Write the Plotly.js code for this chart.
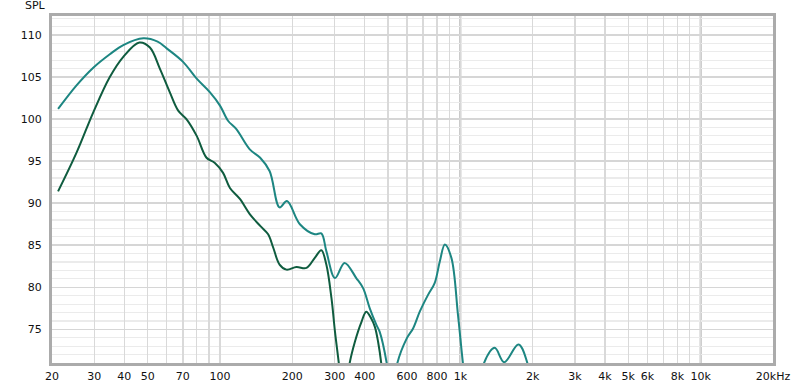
<!DOCTYPE html>
<html>
<head>
<meta charset="utf-8">
<script src="https://cdn.plot.ly/plotly-3.0.1.min.js"></script>
<style>
  html, body { margin: 0; padding: 0; background: #ffffff; }
  #chart { width: 800px; height: 387px; }
</style>
</head>
<body>
<div id="chart"></div>
<script>
// ---- data ----
const tealFreq = [21.2, 25.3, 29.7, 34.8, 39.6, 48, 55, 60, 70.2, 80, 90.7, 100, 108, 117, 133, 147, 161, 177, 190, 215, 248, 264, 277, 301, 330, 369, 394, 420, 448, 462, 496, 515, 530, 544, 598, 636, 678, 734, 782, 822, 862, 918, 978, 1028, 1080, 1180, 1243, 1390, 1522, 1746, 1914, 2000];
const tealSpl  = [101.2, 104.0, 106.1, 107.7, 108.8, 109.6, 109.2, 108.4, 106.8, 104.8, 103.2, 101.6, 99.8, 98.8, 96.4, 95.4, 93.8, 89.5, 90.25, 87.5, 86.3, 86.4, 84.3, 81.1, 82.9, 81.1, 79.9, 77.5, 75.5, 74.7, 70.7, 67, 67, 70.7, 73.9, 75.1, 77.1, 79.1, 80.5, 83.1, 85.1, 83.5, 76.7, 70.7, 66, 67, 70.7, 72.8, 71.1, 73.2, 70.7, 67];

const darkFreq = [21.2, 25.3, 29.7, 34.8, 39.6, 46.2, 51.1, 56.2, 61.8, 67, 72.5, 80, 87.9, 95, 103, 110, 121, 133, 147, 158.6, 166.6, 177, 189, 208, 229, 248, 264, 277, 291, 301, 313, 322, 335, 345, 364, 388, 406, 426, 441, 455, 470, 485];
const darkSpl  = [91.4, 96.0, 100.8, 105.0, 107.4, 109.1, 108.5, 106.0, 103.2, 101.0, 100.0, 98.0, 95.4, 94.8, 93.6, 91.8, 90.5, 88.7, 87.3, 86.3, 84.7, 82.7, 82.1, 82.4, 82.3, 83.5, 84.4, 82.7, 78.7, 74.7, 70.7, 67, 67, 70.7, 73.5, 75.9, 77.1, 76.3, 75.3, 73.5, 70.7, 66];

const xTickVals = [20, 30, 40, 50, 60, 70, 80, 90, 100, 200, 300, 400, 500, 600, 700, 800, 900, 1000, 2000, 3000, 4000, 5000, 6000, 7000, 8000, 9000, 10000, 20000];
const xTickText = ['20', '30', '40', '50', '', '70', '', '', '100', '200', '300', '400', '', '600', '', '800', '', '1k', '2k', '3k', '4k', '5k', '6k', '', '8k', '', '10k', '20kHz'];
const yTickVals = [75, 80, 85, 90, 95, 100, 105, 110];
const decadeLines = [100, 1000, 10000];

// ---- chart ----
const font = { family: 'DejaVu Sans, Verdana, sans-serif', size: 11, color: '#111111' };

const traces = [
  {
    x: darkFreq, y: darkSpl, type: 'scatter', mode: 'lines',
    line: { color: '#0f5c3f', width: 2, shape: 'spline', smoothing: 1 },
    hoverinfo: 'skip'
  },
  {
    x: tealFreq, y: tealSpl, type: 'scatter', mode: 'lines',
    line: { color: '#1d8682', width: 2, shape: 'spline', smoothing: 1 },
    hoverinfo: 'skip'
  }
];

const shapes = decadeLines.map(v => ({
  type: 'line', xref: 'x', yref: 'paper', x0: v, x1: v, y0: 0, y1: 1,
  line: { color: '#b3b3b3', width: 2 }, layer: 'below'
}));

const layout = {
  width: 800, height: 387,
  margin: { l: 52, r: 27, t: 16, b: 24 },
  paper_bgcolor: '#ffffff', plot_bgcolor: '#ffffff',
  showlegend: false,
  font: font,
  xaxis: {
    type: 'log',
    range: [Math.log10(20), Math.log10(20000)],
    tickvals: xTickVals, ticktext: xTickText,
    showgrid: true, gridcolor: '#d9d9d9', gridwidth: 1.5,
    showline: true, mirror: true, linecolor: '#ababab', linewidth: 3,
    ticks: '', zeroline: false, tickfont: font,
    ticklabelstandoff: 1, fixedrange: true
  },
  yaxis: {
    range: [71.0, 112.25],
    tickvals: yTickVals,
    showgrid: true, gridcolor: '#d6d6d6', gridwidth: 1.5,
    minor: { dtick: 1, tick0: 0, showgrid: true, gridcolor: '#ebebeb', gridwidth: 1.2 },
    showline: true, mirror: true, linecolor: '#ababab', linewidth: 3,
    ticks: '', zeroline: false, tickfont: font,
    ticklabelstandoff: 5, fixedrange: true
  },
  shapes: shapes,
  annotations: [{
    text: 'SPL', xref: 'paper', yref: 'paper', x: 0, y: 1,
    xanchor: 'right', yanchor: 'bottom', xshift: -4, yshift: 2,
    showarrow: false, font: font
  }]
};

Plotly.newPlot('chart', traces, layout, { displayModeBar: false, staticPlot: true });
</script>
</body>
</html>
